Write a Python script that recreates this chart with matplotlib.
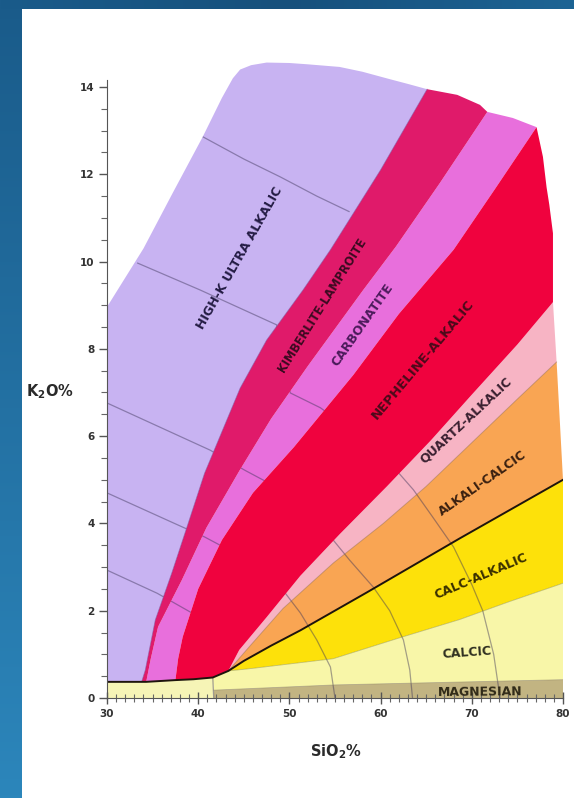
import numpy as np
import matplotlib
matplotlib.use("Agg")
import matplotlib.pyplot as plt
from matplotlib.colors import LinearSegmentedColormap

plt.rcParams['font.family'] = ['DejaVu Sans']
plt.rcParams['mathtext.fontset'] = 'dejavusans'

# ---------------------------------------------------------------------------
# Field boundaries (SiO2 %, K2O %)
# ---------------------------------------------------------------------------
base_x = [30, 33.8, 34.3, 37.5, 39.5, 41.6, 43.3]
base_y = [0.37, 0.37, 0.37, 0.41, 0.43, 0.47, 0.62]

left_x = [30, 34, 37.2, 40.5, 42.6, 43.8]
left_y = [8.96, 10.3, 11.57, 12.86, 13.75, 14.2]

top_x = [43.8, 44.6, 45.8, 47.5, 50, 52, 55.5, 58, 61, 63, 65.1]
top_y = [14.2, 14.4, 14.5, 14.56, 14.55, 14.52, 14.46, 14.35, 14.18, 14.07, 13.95]

b1_x = [33.8, 34.2, 35.3, 37.1, 38.9, 40.7, 42.2, 44.6, 47.5, 51.5, 54.5, 60, 65.1]
b1_y = [0.37, 0.64, 1.79, 2.86, 4.0, 5.15, 5.9, 7.1, 8.2, 9.35, 10.27, 12.1, 13.95]

ktop_x = [65.1, 68.4, 70.9, 71.7]
ktop_y = [13.95, 13.82, 13.59, 13.43]

b2_x = [34.3, 34.8, 35.6, 38.2, 40.9, 44.5, 48, 52, 58.1, 61.7, 66.5, 71.7]
b2_y = [0.37, 0.9, 1.63, 2.7, 3.9, 5.2, 6.4, 7.6, 9.35, 10.35, 11.8, 13.43]

mtop_x = [71.7, 74.5, 77.1]
mtop_y = [13.43, 13.29, 13.08]

b3_x = [37.5, 37.8, 38.3, 40.0, 42.6, 46.0, 50.5, 57, 62, 68, 72.5, 77.1]
b3_y = [0.41, 0.9, 1.4, 2.5, 3.62, 4.7, 5.75, 7.4, 8.8, 10.27, 11.65, 13.08]

redge_x = [78.9, 78.9, 78.9, 78.5, 78.2, 77.8, 77.1]
redge_y = [9.07, 9.9, 10.65, 11.3, 11.7, 12.4, 13.08]

b4_x = [43.3, 44.5, 47.5, 51.2, 55.5, 60.7, 65.5, 70, 75, 78.9]
b4_y = [0.62, 1.1, 1.85, 2.8, 3.75, 4.85, 5.9, 6.95, 8.1, 9.07]

b5_x = [43.3, 45.5, 49.3, 54.8, 60.3, 65, 70, 75, 79.3]
b5_y = [0.62, 1.15, 2.05, 3.09, 4.0, 4.85, 5.85, 6.85, 7.7]

b6_x = [43.3, 45, 48, 51.2, 58.5, 68.7, 80]
b6_y = [0.62, 0.85, 1.2, 1.55, 2.42, 3.66, 5.0]

b7_x = [43.3, 46, 50, 54.8, 62.1, 68.7, 74, 80]
b7_y = [0.62, 0.68, 0.78, 0.9, 1.38, 1.8, 2.2, 2.63]

b8_x = [41.7, 55, 80]
b8_y = [0.18, 0.3, 0.42]

# Guide arcs crossing the fields
arc1_x = [30, 35.5, 39.3, 40.5, 41.2, 41.6, 41.7]
arc1_y = [2.93, 2.4, 1.95, 1.5, 0.9, 0.47, 0.0]
arc2_x = [30, 37.4, 40.7, 43.4, 47.5, 49.3, 51.2, 53, 54.5, 55]
arc2_y = [4.7, 4.0, 3.69, 3.39, 2.85, 2.47, 1.95, 1.33, 0.71, 0.0]
arc3_x = [30, 41.3, 45.1, 47.7, 53.5, 54.8, 56.6, 59.2, 61, 62.5, 63.2, 63.5]
arc3_y = [6.76, 5.68, 5.22, 4.93, 3.9, 3.62, 3.16, 2.54, 2.0, 1.33, 0.64, 0.0]
arc4_x = [33.3, 40.2, 48.6, 49.5, 50.1, 53.4, 57, 60.5, 61.8, 63.6, 65.7, 68, 70, 71.2, 72.4, 73.1]
arc4_y = [9.97, 9.35, 8.55, 7.5, 6.99, 6.65, 6.1, 5.5, 5.2, 4.77, 4.15, 3.46, 2.6, 2.0, 1.0, 0.0]
arc5_x = [40.5, 45, 49, 53, 56.6]
arc5_y = [12.86, 12.35, 11.94, 11.5, 11.14]

field_names = ["HIGH-K ULTRA ALKALIC", "KIMBERLITE-LAMPROITE", "CARBONATITE",
               "NEPHELINE-ALKALIC", "QUARTZ-ALKALIC", "ALKALI-CALCIC",
               "CALC-ALKALIC", "CALCIC", "MAGNESIAN"]

x_ticks = [30, 40, 50, 60, 70, 80]
y_ticks = [0, 2, 4, 6, 8, 10, 12, 14]


def seg(xs, ys, lo=None, hi=None):
    pts = list(zip(xs, ys))
    if lo is not None or hi is not None:
        pts = [p for p in pts if (lo is None or p[0] >= lo) and (hi is None or p[0] <= hi)]
    return pts


def rev(pts):
    return pts[::-1]


# ---------------------------------------------------------------------------
W, H = 574, 798
fig = plt.figure(figsize=(W / 100, H / 100), dpi=100)
fig.patch.set_facecolor('white')

# blue frame on the left and top
frame_cmap = LinearSegmentedColormap.from_list('frame', ['#1a5b8a', '#2c86bb'])
lax = fig.add_axes([0, 0, 22 / W, 1])
lax.imshow(np.linspace(0, 1, 256).reshape(-1, 1), aspect='auto', cmap=frame_cmap)
lax.axis('off')
top_cmap = LinearSegmentedColormap.from_list('frame2', ['#1a5b8a', '#16507c', '#1d6494'])
tax = fig.add_axes([0, 1 - 9 / H, 1, 9 / H])
tax.imshow(np.linspace(0, 1, 256).reshape(1, -1), aspect='auto', cmap=top_cmap)
tax.axis('off')

ppu_y = (698 - 87) / 14.0
ymax = 14.7
ax = fig.add_axes([107 / W, (H - 698) / H, (563 - 107) / W, ymax * ppu_y / H])
ax.set_xlim(30, 80)
ax.set_ylim(0, ymax)
ax.set_facecolor('none')

# polygons
lav = seg(base_x, base_y, hi=33.8) + seg(b1_x, b1_y)[1:] + rev(seg(top_x, top_y))[1:] + rev(seg(left_x, left_y))[1:]
kim = seg(b1_x, b1_y) + seg(ktop_x, ktop_y)[1:] + rev(seg(b2_x, b2_y))
mag = seg(b2_x, b2_y) + seg(mtop_x, mtop_y)[1:] + rev(seg(b3_x, b3_y))
red = seg(base_x, base_y, lo=37.5) + seg(b4_x, b4_y)[1:] + seg(redge_x, redge_y)[1:] + rev(seg(b3_x, b3_y))[1:]
pink = seg(b5_x, b5_y) + [(78.9, 9.07)] + rev(seg(b4_x, b4_y))[:-1]
orange = seg(b6_x, b6_y) + [(79.3, 7.7)] + rev(seg(b5_x, b5_y))[:-1]
yellow = seg(b7_x, b7_y) + [(80, 5.0)] + rev(seg(b6_x, b6_y))[:-1]
calcic = seg(b8_x, b8_y) + [(80, 2.63)] + rev(seg(b7_x, b7_y))[1:] + rev(seg(base_x, base_y, lo=41.6))[1:]
magn = [(41.7, 0), (80, 0)] + rev(seg(b8_x, b8_y))
strip = [(30, 0), (41.7, 0), (41.7, 0.18)] + rev(seg(base_x, base_y, hi=41.6))


def fill(pts, color, z):
    xs, ys = zip(*pts)
    ax.fill(xs, ys, color=color, lw=0, zorder=z, clip_on=False)


fill(lav, '#c8b3f2', 1)
fill(mag, '#e86fdc', 1)
fill(pink, '#f7b4c4', 1)
fill(orange, '#f9a553', 1)
fill(yellow, '#fde10a', 1)
fill(calcic, '#f8f6a8', 1)
fill(magn, '#c2b482', 1)
fill(strip, '#f6f4b6', 1)

# guide arcs (they pass under the dark fields)
for xs, ys in [(arc1_x, arc1_y), (arc2_x, arc2_y), (arc3_x, arc3_y), (arc4_x, arc4_y), (arc5_x, arc5_y)]:
    ax.plot(xs, ys, color='#3c3458', lw=0.9, alpha=0.45, zorder=2, solid_capstyle='butt')

fill(kim, '#e01a6a', 3)
fill(red, '#f0023e', 3)

# boundary lines
bx, by = zip(*seg(b1_x, b1_y))
ax.plot(bx, by, color='#7a4aa0', lw=0.6, alpha=0.6, zorder=4)
bx, by = zip(*seg(b5_x, b5_y))
ax.plot(bx, by, color='#8a5a40', lw=0.6, alpha=0.5, zorder=4)
bx, by = zip(*seg(b7_x, b7_y))
ax.plot(bx, by, color='#8a8a30', lw=0.6, alpha=0.5, zorder=4)
bx, by = zip(*seg(b8_x, b8_y))
ax.plot(bx, by, color='#8a8060', lw=0.6, alpha=0.5, zorder=4)
thick = seg(base_x, base_y) + seg(b6_x, b6_y)[1:]
bx, by = zip(*thick)
ax.plot(bx, by, color='#1e140c', lw=1.4, zorder=4, solid_joinstyle='round')

# field names
label_pos = [(44.58, 10.08, 60.5, '#241c44', 9),
             (53.57, 9.0, 58, '#3a0a20', 8.3),
             (58.07, 8.55, 55, '#4a1a5a', 9),
             (64.65, 7.75, 50, '#4a0a1a', 9.5),
             (69.36, 6.37, 43, '#3a2030', 9),
             (71.23, 4.93, 35, '#3a2010', 9),
             (71.0, 2.8, 23, '#3a3000', 9),
             (69.47, 1.03, 4, '#303020', 9),
             (70.9, 0.14, 0.5, '#302a18', 9)]
for name, (lx, ly, rot, col, fs) in zip(field_names, label_pos):
    ax.text(lx, ly, name, rotation=rot, rotation_mode='anchor', ha='center', va='center',
            fontsize=fs, fontweight='bold', color=col, zorder=6)

# axes styling
for s in ['top', 'right']:
    ax.spines[s].set_visible(False)
ax.spines['left'].set_bounds(0, 14.15)
ax.spines['left'].set_color('#555555')
ax.spines['bottom'].set_color('#555555')
ax.spines['left'].set_zorder(7)
ax.spines['bottom'].set_zorder(7)
ax.set_xticks(x_ticks)
ax.set_xticklabels([str(v) for v in x_ticks])
ax.set_xticks(np.arange(30, 81, 1), minor=True)
ax.set_yticks(y_ticks)
ax.set_yticklabels([str(v) for v in y_ticks])
ax.set_yticks(np.arange(0, 14.01, 0.5), minor=True)
ax.tick_params(axis='x', which='major', direction='inout', length=8, width=1, color='#555555',
               labelsize=7.5, pad=4, labelcolor='#333333')
ax.tick_params(axis='x', which='minor', direction='inout', length=6, width=0.8, color='#666666')
ax.tick_params(axis='y', which='major', direction='out', length=6, width=1, color='#555555',
               labelsize=7.5, pad=3, labelcolor='#333333')
ax.tick_params(axis='y', which='minor', direction='out', length=4, width=0.8, color='#666666')
for lbl in ax.get_xticklabels() + ax.get_yticklabels():
    lbl.set_fontweight('bold')

fig.text(50 / W, 1 - 392 / H, r'K$_\mathbf{2}$O%', ha='center', va='center',
         fontsize=10.5, fontweight='bold', color='#2a2a2a')
fig.text(336 / W, 1 - 752 / H, r'SiO$_\mathbf{2}$%', ha='center', va='center',
         fontsize=10.5, fontweight='bold', color='#2a2a2a')

fig.savefig('out.png', dpi=100, facecolor='white')
